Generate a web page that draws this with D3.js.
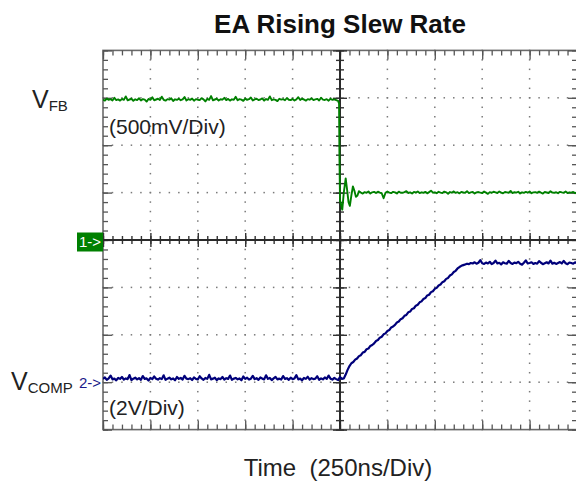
<!DOCTYPE html>
<html><head><meta charset="utf-8">
<script src="https://cdn.jsdelivr.net/npm/d3@7"></script>
<style>
html,body{margin:0;padding:0;background:#fff;}
svg{display:block;font-family:"Liberation Sans",Arial,sans-serif;}
</style>
</head><body>
<svg id="chart" width="576" height="481"></svg>
<script>
// ---------- texts ----------
const titleText = "EA Rising Slew Rate";
const xAxisLabel = "Time  (250ns/Div)";
const ch1Name = ["V", "FB"];
const ch2Name = ["V", "COMP"];
const ch1ScaleLabel = "(500mV/Div)";
const ch2ScaleLabel = "(2V/Div)";
const ch1Marker = "1->";
const ch2Marker = "2->";

// ---------- graticule (divisions) ----------
const timeDomain = [-1250, 1250];   // ns, 10 div x 250 ns
const ch1Domain = [-2000, 2000];    // mV, 8 div x 500 mV, ground at centre
const ch2Domain = [-2, 14];         // V, 8 div x 2 V, ground 3 div below centre
const majorX = [-4, -3, -2, -1, 1, 2, 3, 4];
const majorY = [-3, -2, -1, 1, 2, 3];

// ---------- channel 1 : V_FB (mV) ----------
const vfbPreStart = -1250, vfbPreEnd = -20, sampleStep = 10;
const vfbPre = [
1480,1470,1492,1478,1485,1472,1500,1476,1483,1470,
1488,1478,1515,1474,1482,1490,1468,1484,1476,1495,
1472,1486,1480,1460,1488,1478,1505,1474,1482,1490,
1476,1512,1479,1470,1486,1481,1494,1466,1484,1478,
1490,1475,1483,1508,1472,1485,1478,1492,1470,1486,
1480,1476,1496,1484,1462,1488,1479,1518,1474,1482,
1490,1472,1485,1480,1500,1476,1488,1470,1484,1479,
1510,1474,1486,1481,1468,1492,1478,1485,1503,1472,
1484,1490,1476,1482,1494,1470,1487,1479,1515,1475,
1483,1478,1465,1490,1481,1486,1474,1498,1480,1476,
1488,1472,1484,1506,1478,1490,1482,1470,1486,1480,
1494,1476,1483,1489,1472,1500,1481,1477,1485,1470,
1490,1478,1484,1476];
const vfbStepTime = [-10, -5, -3, 0, 12, 20, 30, 38, 45, 52, 60, 68, 76, 84, 92, 100, 110, 120];
const vfbStepMv   = [1468, 1440, 900, 420, 320, 500, 650, 520, 400, 360, 470, 565, 520, 455, 470, 515, 500, 490];
const vfbPostStart = 130, vfbPostEnd = 1250;
const vfbPost = [
505,498,512,490,503,508,495,510,500,493,
440,498,512,500,494,508,502,490,510,498,
498,505,515,496,502,490,507,500,512,495,
503,498,508,492,505,520,499,502,494,509,
500,496,510,503,488,506,499,513,497,504,
492,507,501,498,515,495,503,508,490,502,
506,499,494,511,500,487,505,498,509,503,
496,512,500,493,506,502,498,518,495,504,
500,509,491,503,497,507,499,512,494,502,
505,497,510,499,490,506,501,496,514,500,
498,504,493,508,502,497,511,495,503,500,
507,494,502];

// ---------- channel 2 : V_COMP (V) ----------
const vcompPreStart = -1250, vcompPreEnd = 20;
const vcompPre = [
0.14,0.20,0.10,0.16,0.28,0.12,0.15,0.08,0.18,0.14,
0.22,0.11,0.16,0.13,0.30,0.09,0.15,0.19,0.12,0.17,
0.10,0.26,0.14,0.16,0.07,0.18,0.13,0.24,0.15,0.11,
0.17,0.13,0.29,0.10,0.15,0.19,0.12,0.16,0.08,0.22,
0.14,0.18,0.11,0.27,0.15,0.13,0.17,0.09,0.20,0.14,
0.12,0.25,0.16,0.10,0.18,0.14,0.31,0.12,0.15,0.19,
0.09,0.16,0.13,0.22,0.11,0.17,0.14,0.28,0.10,0.15,
0.18,0.12,0.16,0.08,0.24,0.14,0.19,0.11,0.15,0.27,
0.13,0.17,0.10,0.20,0.15,0.12,0.29,0.14,0.18,0.09,
0.16,0.22,0.12,0.15,0.11,0.26,0.14,0.17,0.10,0.19,
0.13,0.16,0.30,0.12,0.15,0.08,0.18,0.14,0.23,0.11,
0.17,0.13,0.15,0.25,0.10,0.16,0.12,0.20,0.14,0.28,
0.15,0.11,0.18,0.13,0.09,0.22,0.14,0.16];
const vcompRampStart = 30, vcompRampEnd = 620;
const vcompRamp = [
0.32,0.52,0.68,0.80,0.85,0.95,1.00,1.10,1.14,1.25,
1.28,1.39,1.42,1.53,1.57,1.64,1.74,1.78,1.88,1.92,
2.02,2.06,2.16,2.20,2.31,2.35,2.42,2.52,2.56,2.66,
2.70,2.80,2.84,2.95,2.98,3.09,3.12,3.23,3.27,3.37,
3.41,3.51,3.55,3.66,3.69,3.80,3.84,3.94,3.98,4.08,
4.12,4.22,4.26,4.36,4.40,4.50,4.55,4.65,4.70,4.80];
const vcompPlatStart = 630, vcompPlatEnd = 1250;
const vcompPlat = [
4.86,4.91,4.94,4.97,5.00,4.98,5.03,5.01,5.06,5.00,
5.04,5.15,5.02,4.99,5.05,5.01,5.08,4.98,5.03,5.13,
5.01,5.04,4.97,5.06,5.02,5.00,5.12,5.03,4.99,5.05,
5.02,5.08,5.00,4.96,5.04,5.14,5.01,5.03,5.06,4.99,
5.03,5.00,5.11,5.04,4.98,5.02,5.06,5.01,5.13,5.00,
5.04,4.99,5.03,5.07,5.01,5.12,5.02,4.98,5.05,5.03,
5.00,5.06,5.02];

// ---------- assemble series ----------
const times = (a, b) => d3.range(a, b + 0.001, sampleStep);
const zip = (ts, vs) => ts.map((t, i) => ({t, v: vs[i]}));
const vfbData = [].concat(
  zip(times(vfbPreStart, vfbPreEnd), vfbPre),
  zip(vfbStepTime, vfbStepMv),
  zip(times(vfbPostStart, vfbPostEnd), vfbPost));
const vcompData = [].concat(
  zip(times(vcompPreStart, vcompPreEnd), vcompPre),
  zip(times(vcompRampStart, vcompRampEnd), vcompRamp),
  zip(times(vcompPlatStart, vcompPlatEnd), vcompPlat));

// ---------- layout ----------
const L = 103, R = 577, T = 50.4, B = 429.6;
const svg = d3.select("#chart");
const x = d3.scaleLinear().domain(timeDomain).range([L, R]);
const xDiv = d3.scaleLinear().domain([-5, 5]).range([L, R]);
const yDiv = d3.scaleLinear().domain([-4, 4]).range([B, T]);
const y1 = d3.scaleLinear().domain(ch1Domain).range([B, T]);
const y2 = d3.scaleLinear().domain(ch2Domain).range([B, T]);

const minorX = d3.range(-5, 5.0001, 0.2).map(v => +v.toFixed(2));
const minorY = d3.range(-4, 4.0001, 0.2).map(v => +v.toFixed(2));
const majX = d3.range(-5, 5.0001, 1);
const majY = d3.range(-4, 4.0001, 1);

// dotted graticule
const dots = [];
majorX.forEach(gx => minorY.forEach(my => dots.push([xDiv(gx), yDiv(my)])));
majorY.forEach(gy => minorX.forEach(mx => dots.push([xDiv(mx), yDiv(gy)])));
svg.append("g").selectAll("rect").data(dots).join("rect")
  .attr("x", d => d[0] - 0.75).attr("y", d => d[1] - 0.75)
  .attr("width", 1.5).attr("height", 1.5).attr("fill", "#7a7a7a");

// border
svg.append("rect").attr("x", L).attr("y", T).attr("width", R - L).attr("height", B - T)
  .attr("fill", "none").attr("stroke", "#6a6a6a").attr("stroke-width", 1.6);

function styleAxis(g, color, w) {
  g.select(".domain").remove();
  g.selectAll(".tick line").attr("stroke", color).attr("stroke-width", w);
  g.selectAll(".tick text").remove();
}
[[5, minorX], [9, majX]].forEach(([s, vals]) => {
  svg.append("g").attr("transform", `translate(0,${T})`)
    .call(d3.axisBottom(xDiv).tickValues(vals).tickSize(s)).call(g => styleAxis(g, "#555", 1.3));
  svg.append("g").attr("transform", `translate(0,${B})`)
    .call(d3.axisTop(xDiv).tickValues(vals).tickSize(s)).call(g => styleAxis(g, "#555", 1.3));
});
[[5, minorY], [9, majY]].forEach(([s, vals]) => {
  svg.append("g").attr("transform", `translate(${L},0)`)
    .call(d3.axisRight(yDiv).tickValues(vals).tickSize(s)).call(g => styleAxis(g, "#555", 1.3));
  svg.append("g").attr("transform", `translate(${R},0)`)
    .call(d3.axisLeft(yDiv).tickValues(vals).tickSize(s)).call(g => styleAxis(g, "#555", 1.3));
});
const cy = yDiv(0), cx = xDiv(0);
[[8, minorX], [14, majX]].forEach(([s, vals]) => {
  svg.append("g").attr("transform", `translate(0,${cy - s / 2})`)
    .call(d3.axisBottom(xDiv).tickValues(vals).tickSize(s)).call(g => styleAxis(g, "#333", 1.4));
});
[[8, minorY], [14, majY]].forEach(([s, vals]) => {
  svg.append("g").attr("transform", `translate(${cx - s / 2},0)`)
    .call(d3.axisRight(yDiv).tickValues(vals).tickSize(s)).call(g => styleAxis(g, "#333", 1.4));
});
svg.append("line").attr("x1", L).attr("x2", R).attr("y1", cy).attr("y2", cy)
  .attr("stroke", "#2a2a2a").attr("stroke-width", 2);
svg.append("line").attr("x1", cx).attr("x2", cx).attr("y1", T).attr("y2", B)
  .attr("stroke", "#2a2a2a").attr("stroke-width", 2);

// traces
svg.append("clipPath").attr("id", "clip").append("rect")
  .attr("x", L).attr("y", T).attr("width", R - L).attr("height", B - T);
const plot = svg.append("g").attr("clip-path", "url(#clip)");
plot.append("path").datum(vfbData)
  .attr("d", d3.line().x(d => x(d.t)).y(d => y1(d.v)))
  .attr("fill", "none").attr("stroke", "#008000").attr("stroke-width", 1.9)
  .attr("stroke-linejoin", "round");
plot.append("path").datum(vcompData)
  .attr("d", d3.line().x(d => x(d.t)).y(d => y2(d.v)))
  .attr("fill", "none").attr("stroke", "#00007a").attr("stroke-width", 2.2)
  .attr("stroke-linejoin", "round");

// channel markers
const g1 = y1(0), g2 = y2(0);
svg.append("rect").attr("x", 77).attr("y", g1 - 7.5).attr("width", 26).attr("height", 19)
  .attr("fill", "#008000");
svg.append("text").attr("x", 90).attr("y", g1 + 7).attr("text-anchor", "middle")
  .attr("font-size", 15).attr("fill", "#fff").text(ch1Marker);
svg.append("text").attr("x", 79).attr("y", g2 + 6).attr("font-size", 15)
  .attr("fill", "#1a1a8a").text(ch2Marker);

// texts
svg.append("text").attr("x", 340).attr("y", 33).attr("text-anchor", "middle")
  .attr("font-size", 26).attr("font-weight", "bold").attr("fill", "#111").text(titleText);
svg.append("text").attr("x", 338).attr("y", 476).attr("text-anchor", "middle")
  .attr("font-size", 24).attr("fill", "#222")
  .style("white-space", "pre").text(xAxisLabel);

const t1 = svg.append("text").attr("x", 32).attr("y", 108).attr("fill", "#222");
t1.append("tspan").attr("font-size", 25).text(ch1Name[0]);
t1.append("tspan").attr("font-size", 15).attr("dy", 3).text(ch1Name[1]);
const t2 = svg.append("text").attr("x", 11).attr("y", 390).attr("fill", "#222");
t2.append("tspan").attr("font-size", 25).text(ch2Name[0]);
t2.append("tspan").attr("font-size", 15).attr("dy", 3).text(ch2Name[1]);

svg.append("text").attr("x", 109).attr("y", 134).attr("font-size", 21)
  .attr("fill", "#222").text(ch1ScaleLabel);
svg.append("text").attr("x", 109).attr("y", 415).attr("font-size", 21)
  .attr("fill", "#222").text(ch2ScaleLabel);
</script>
</body></html>
